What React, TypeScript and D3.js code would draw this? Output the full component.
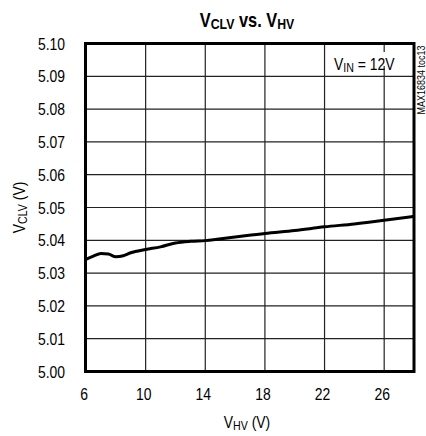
import React, { useRef, useEffect } from 'react';
import * as d3 from 'd3';

// V_HV (V) and V_CLV (V)
const vhv = [6, 6.5, 7, 7.5, 8, 8.5, 9, 10, 11, 12, 13, 14, 16, 18, 20, 22, 24, 26, 28];
const vclv = [5.0342, 5.0352, 5.036, 5.0358, 5.035, 5.0353, 5.0362, 5.0372, 5.038, 5.0392, 5.0397, 5.0399, 5.041, 5.0421, 5.043, 5.0441, 5.045, 5.0461, 5.0473];

const xTicks = [6, 10, 14, 18, 22, 26];
const xGrid = [10, 14, 18, 22, 26];
const yTicks = [5.0, 5.01, 5.02, 5.03, 5.04, 5.05, 5.06, 5.07, 5.08, 5.09, 5.1];

const FONT = "'Liberation Sans', Arial, sans-serif";
const NARROW = 0.82; // squeeze to look like a condensed face

const App: React.FC = () => {
  const ref = useRef<SVGSVGElement | null>(null);

  useEffect(() => {
    if (!ref.current) return;
    const svg = d3.select(ref.current);
    svg.selectAll('*').remove();

    const left = 86;
    const right = 414;
    const top = 43.5;
    const bottom = 371.5;

    const x = d3.scaleLinear().domain([6, 28]).range([left, right]);
    const y = d3.scaleLinear().domain([5.0, 5.1]).range([bottom, top]);

    // text placed at (tx, ty), squeezed horizontally
    const label = (tx: number, ty: number, size: number, anchor: string, rot = 0) =>
      svg.append('text')
        .attr('transform', `translate(${tx},${ty}) rotate(${rot}) scale(${NARROW},1)`)
        .attr('text-anchor', anchor)
        .attr('font-family', FONT)
        .attr('font-size', size)
        .attr('fill', '#000');

    // Grid
    svg.append('g')
      .selectAll('line')
      .data(xGrid)
      .enter()
      .append('line')
      .attr('x1', d => x(d))
      .attr('x2', d => x(d))
      .attr('y1', top)
      .attr('y2', bottom)
      .attr('stroke', '#222')
      .attr('stroke-width', 1.2);

    svg.append('g')
      .selectAll('line')
      .data(yTicks.slice(1, -1))
      .enter()
      .append('line')
      .attr('x1', left)
      .attr('x2', right)
      .attr('y1', d => y(d))
      .attr('y2', d => y(d))
      .attr('stroke', '#222')
      .attr('stroke-width', 1.2);

    // Annotation box (hides grid behind text)
    svg.append('rect')
      .attr('x', 333)
      .attr('y', 52)
      .attr('width', 66)
      .attr('height', 14)
      .attr('fill', '#fff');

    const ann = label(334, 70, 17, 'start');
    ann.append('tspan').text('V');
    ann.append('tspan').attr('font-size', 13).attr('dy', 2).text('IN');
    ann.append('tspan').attr('dy', -2).text(' = 12V');

    // Curve
    const line = d3.line<number>()
      .x((_, i) => x(vhv[i]))
      .y(d => y(d))
      .curve(d3.curveMonotoneX);

    svg.append('path')
      .datum(vclv)
      .attr('fill', 'none')
      .attr('stroke', '#000')
      .attr('stroke-width', 3)
      .attr('stroke-linejoin', 'round')
      .attr('d', line as any);

    // Frame
    svg.append('rect')
      .attr('x', left - 0.5)
      .attr('y', top)
      .attr('width', right - left + 0.5)
      .attr('height', bottom - top)
      .attr('fill', 'none')
      .attr('stroke', '#000')
      .attr('stroke-width', 3);

    // Y tick labels
    yTicks.forEach(d => {
      label(65, y(d) + 6, 17, 'end').text(d3.format('.2f')(d));
    });

    // X tick labels
    xTicks.forEach(d => {
      label(x(d) - 2, 400, 17, 'middle').text(String(d));
    });

    // X label
    const xl = label(247, 428, 17, 'middle');
    xl.append('tspan').text('V');
    xl.append('tspan').attr('font-size', 13).attr('dy', 2).text('HV');
    xl.append('tspan').attr('dy', -2).text(' (V)');

    // Y label
    const yl = label(25, (top + bottom) / 2, 17, 'middle', -90);
    yl.append('tspan').text('V');
    yl.append('tspan').attr('font-size', 13).attr('dy', 2).text('CLV');
    yl.append('tspan').attr('dy', -2).text(' (V)');

    // Title
    const title = label(247, 27, 20, 'middle').attr('font-weight', 'bold');
    title.append('tspan').text('V');
    title.append('tspan').attr('font-size', 15).attr('dy', 2).text('CLV');
    title.append('tspan').attr('dy', -2).text(' vs. V');
    title.append('tspan').attr('font-size', 15).attr('dy', 2).text('HV');

    // Figure code
    label(425, 80, 11, 'middle', -90).text('MAX16834 toc13');
  }, []);

  return (
    <svg
      ref={ref}
      width={426}
      height={436}
      style={{ position: 'absolute', left: 0, top: 0, background: '#fff' }}
    />
  );
};

export default App;
